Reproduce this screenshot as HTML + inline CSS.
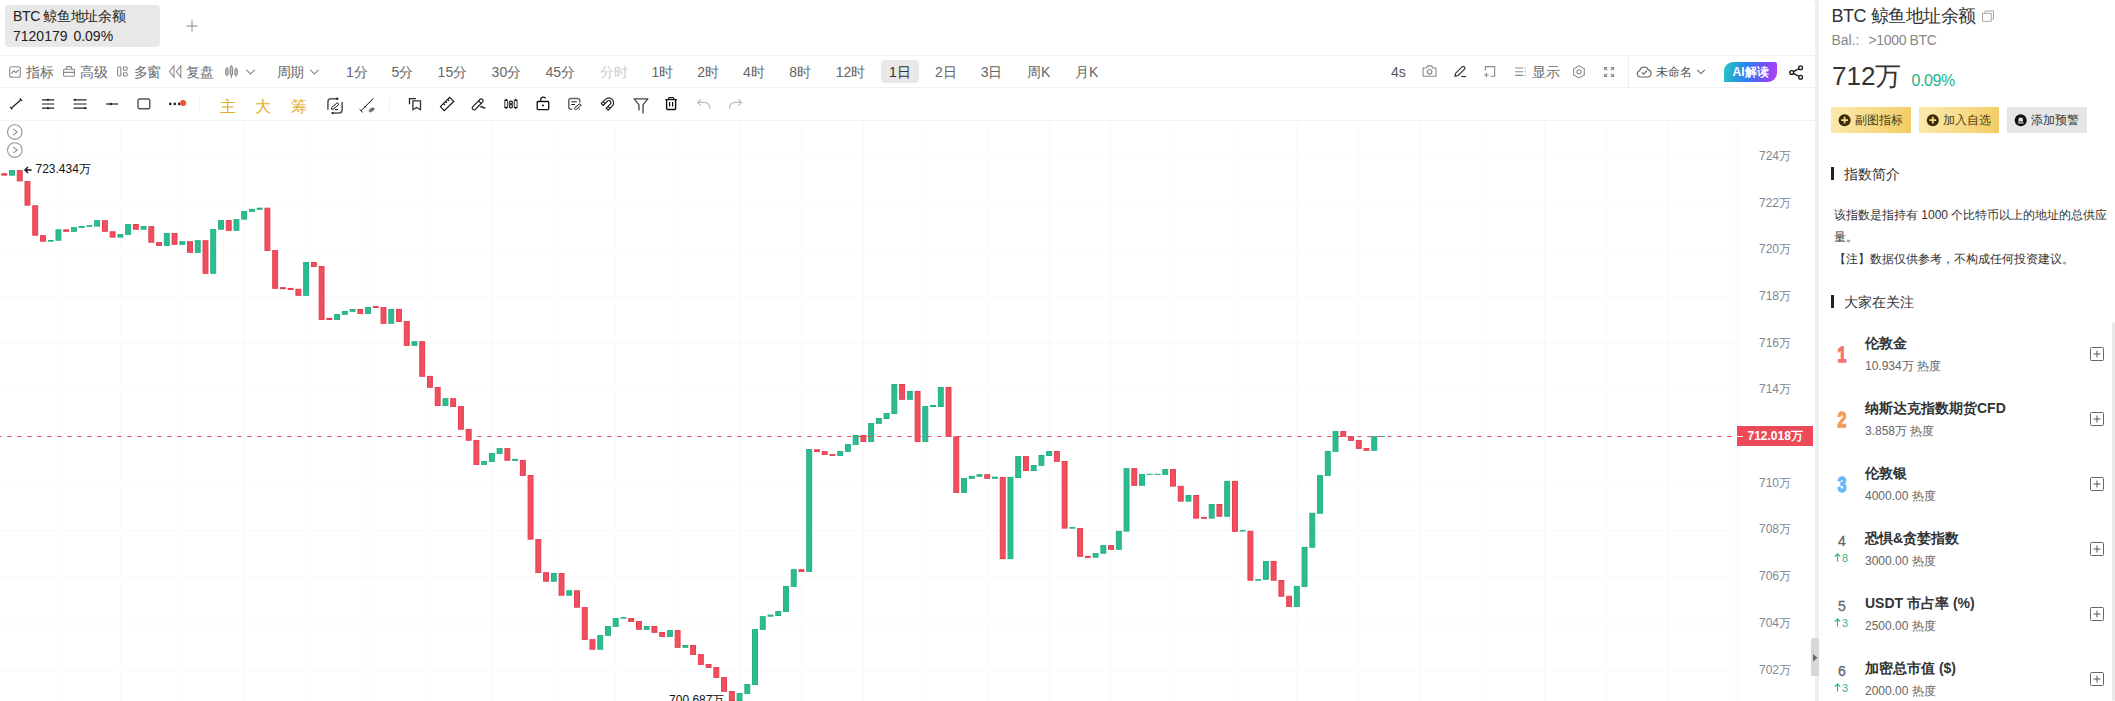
<!DOCTYPE html>
<html><head><meta charset="utf-8"><title>BTC</title>
<style>
html,body{margin:0;padding:0}
html{overflow:hidden;width:2115px;height:701px}
body{width:2115px;height:701px;overflow:hidden;background:#fff;position:relative;font-family:"Liberation Sans",sans-serif;color:#333}
.abs{position:absolute}
div{position:absolute;white-space:nowrap}
.hl{left:0;width:1815px;height:1px;background:#f1f1f1}
.t1{top:63px;height:18px;line-height:18px;font-size:14px;color:#6a6a6a;letter-spacing:-0.6px;margin-left:-0.4px}
.tf{top:63px;height:18px;line-height:18px;font-size:14px;color:#666}
.tf.dis{color:#ccc}
.tf.sel{color:#333}
.yl{left:1745px;width:60px;text-align:center;font-size:12px;line-height:16px;color:#7d8796}
.rk{left:1832px;width:20px;text-align:center;font-size:14px;line-height:18px;color:#666;-webkit-text-stroke:0.3px #666}
.rk.big{font-size:21.5px;font-weight:bold;line-height:24px;transform:scaleX(0.74);-webkit-text-stroke:1.3px currentColor}
.up{left:1834px;font-size:11px;line-height:12px;color:#2bb78d}
.up svg{margin-right:1px;vertical-align:0px}
.nm{left:1865px;font-size:14px;line-height:18px;font-weight:bold;color:#333}
.sb{left:1865px;font-size:12px;line-height:14px;color:#666}
.btn{top:107px;height:26px;width:80px;line-height:26px;font-size:12px;color:#4a3c14}
.btn span{position:absolute;left:24px;top:0}
.sec{left:1844.4px;font-size:14px;line-height:18px;color:#333}
.bar{left:1831px;width:3px;height:13px;background:#222}
</style></head><body>
<svg class="abs" style="left:0;top:0" width="2115" height="701" viewBox="0 0 2115 701" shape-rendering="auto">
<g stroke="#f7f9fb" stroke-width="1"><line x1="58.4" y1="121" x2="58.4" y2="701"/><line x1="120.3" y1="121" x2="120.3" y2="701"/><line x1="182.2" y1="121" x2="182.2" y2="701"/><line x1="244.2" y1="121" x2="244.2" y2="701"/><line x1="306.1" y1="121" x2="306.1" y2="701"/><line x1="368.0" y1="121" x2="368.0" y2="701"/><line x1="429.9" y1="121" x2="429.9" y2="701"/><line x1="491.8" y1="121" x2="491.8" y2="701"/><line x1="553.8" y1="121" x2="553.8" y2="701"/><line x1="615.7" y1="121" x2="615.7" y2="701"/><line x1="677.6" y1="121" x2="677.6" y2="701"/><line x1="739.5" y1="121" x2="739.5" y2="701"/><line x1="801.4" y1="121" x2="801.4" y2="701"/><line x1="863.4" y1="121" x2="863.4" y2="701"/><line x1="925.3" y1="121" x2="925.3" y2="701"/><line x1="987.2" y1="121" x2="987.2" y2="701"/><line x1="1049.1" y1="121" x2="1049.1" y2="701"/><line x1="1111.0" y1="121" x2="1111.0" y2="701"/><line x1="1173.0" y1="121" x2="1173.0" y2="701"/><line x1="1234.9" y1="121" x2="1234.9" y2="701"/><line x1="1296.8" y1="121" x2="1296.8" y2="701"/><line x1="1358.7" y1="121" x2="1358.7" y2="701"/><line x1="1420.6" y1="121" x2="1420.6" y2="701"/><line x1="1482.6" y1="121" x2="1482.6" y2="701"/><line x1="1544.5" y1="121" x2="1544.5" y2="701"/><line x1="1606.4" y1="121" x2="1606.4" y2="701"/><line x1="1668.3" y1="121" x2="1668.3" y2="701"/><line x1="1730.2" y1="121" x2="1730.2" y2="701"/><line x1="0" y1="156.8" x2="1743" y2="156.8"/><line x1="0" y1="203.5" x2="1743" y2="203.5"/><line x1="0" y1="250.2" x2="1743" y2="250.2"/><line x1="0" y1="296.9" x2="1743" y2="296.9"/><line x1="0" y1="343.6" x2="1743" y2="343.6"/><line x1="0" y1="390.3" x2="1743" y2="390.3"/><line x1="0" y1="437.0" x2="1743" y2="437.0"/><line x1="0" y1="483.7" x2="1743" y2="483.7"/><line x1="0" y1="530.4" x2="1743" y2="530.4"/><line x1="0" y1="577.1" x2="1743" y2="577.1"/><line x1="0" y1="623.8" x2="1743" y2="623.8"/><line x1="0" y1="670.5" x2="1743" y2="670.5"/><line x1="1737.5" y1="121" x2="1737.5" y2="701"/></g>
<rect x="1.30" y="173.2" width="5.9" height="2.4" fill="#e93c4e"/>
<rect x="9.54" y="170.6" width="4.9" height="4.5" fill="#2fbb92" stroke="#1fb285" stroke-width="1"/>
<rect x="17.28" y="170.6" width="4.9" height="10.3" fill="#ed505f" stroke="#e93c4e" stroke-width="1"/>
<rect x="25.02" y="181.6" width="4.9" height="23.5" fill="#ed505f" stroke="#e93c4e" stroke-width="1"/>
<rect x="32.76" y="205.8" width="4.9" height="29.4" fill="#ed505f" stroke="#e93c4e" stroke-width="1"/>
<rect x="40.50" y="235.7" width="4.9" height="5.5" fill="#ed505f" stroke="#e93c4e" stroke-width="1"/>
<rect x="47.74" y="240.0" width="5.9" height="1.7" fill="#1fb285"/>
<rect x="55.98" y="229.8" width="4.9" height="10.4" fill="#2fbb92" stroke="#1fb285" stroke-width="1"/>
<rect x="63.22" y="229.3" width="5.9" height="2.5" fill="#e93c4e"/>
<rect x="71.46" y="227.7" width="4.9" height="3.6" fill="#2fbb92" stroke="#1fb285" stroke-width="1"/>
<rect x="78.70" y="226.0" width="5.9" height="1.9" fill="#1fb285"/>
<rect x="86.44" y="225.2" width="5.9" height="1.7" fill="#1fb285"/>
<rect x="94.68" y="220.7" width="4.9" height="5.4" fill="#2fbb92" stroke="#1fb285" stroke-width="1"/>
<rect x="102.42" y="220.7" width="4.9" height="10.6" fill="#ed505f" stroke="#e93c4e" stroke-width="1"/>
<rect x="110.16" y="231.8" width="4.9" height="5.3" fill="#ed505f" stroke="#e93c4e" stroke-width="1"/>
<rect x="117.90" y="234.6" width="4.9" height="2.5" fill="#2fbb92" stroke="#1fb285" stroke-width="1"/>
<rect x="125.64" y="224.6" width="4.9" height="9.7" fill="#2fbb92" stroke="#1fb285" stroke-width="1"/>
<rect x="133.38" y="224.5" width="4.9" height="4.7" fill="#ed505f" stroke="#e93c4e" stroke-width="1"/>
<rect x="141.12" y="226.6" width="4.9" height="2.6" fill="#2fbb92" stroke="#1fb285" stroke-width="1"/>
<rect x="148.86" y="226.6" width="4.9" height="15.6" fill="#ed505f" stroke="#e93c4e" stroke-width="1"/>
<rect x="156.60" y="242.6" width="4.9" height="2.8" fill="#ed505f" stroke="#e93c4e" stroke-width="1"/>
<rect x="164.34" y="233.5" width="4.9" height="11.9" fill="#2fbb92" stroke="#1fb285" stroke-width="1"/>
<rect x="172.08" y="233.5" width="4.9" height="10.8" fill="#ed505f" stroke="#e93c4e" stroke-width="1"/>
<rect x="179.82" y="241.7" width="4.9" height="2.6" fill="#2fbb92" stroke="#1fb285" stroke-width="1"/>
<rect x="187.56" y="241.7" width="4.9" height="10.6" fill="#ed505f" stroke="#e93c4e" stroke-width="1"/>
<rect x="195.30" y="240.7" width="4.9" height="11.6" fill="#2fbb92" stroke="#1fb285" stroke-width="1"/>
<rect x="203.04" y="240.7" width="4.9" height="32.6" fill="#ed505f" stroke="#e93c4e" stroke-width="1"/>
<rect x="210.78" y="229.6" width="4.9" height="43.7" fill="#2fbb92" stroke="#1fb285" stroke-width="1"/>
<rect x="218.52" y="220.6" width="4.9" height="8.6" fill="#2fbb92" stroke="#1fb285" stroke-width="1"/>
<rect x="226.26" y="220.6" width="4.9" height="9.7" fill="#ed505f" stroke="#e93c4e" stroke-width="1"/>
<rect x="234.00" y="219.7" width="4.9" height="10.6" fill="#2fbb92" stroke="#1fb285" stroke-width="1"/>
<rect x="241.74" y="211.6" width="4.9" height="7.5" fill="#2fbb92" stroke="#1fb285" stroke-width="1"/>
<rect x="249.48" y="209.4" width="4.9" height="1.9" fill="#2fbb92" stroke="#1fb285" stroke-width="1"/>
<rect x="256.72" y="207.7" width="5.9" height="2.1" fill="#1fb285"/>
<rect x="264.96" y="208.2" width="4.9" height="42.2" fill="#ed505f" stroke="#e93c4e" stroke-width="1"/>
<rect x="272.70" y="250.6" width="4.9" height="37.7" fill="#ed505f" stroke="#e93c4e" stroke-width="1"/>
<rect x="279.94" y="287.1" width="5.9" height="2.1" fill="#e93c4e"/>
<rect x="287.68" y="287.9" width="5.9" height="2.1" fill="#e93c4e"/>
<rect x="295.92" y="289.3" width="4.9" height="6.0" fill="#ed505f" stroke="#e93c4e" stroke-width="1"/>
<rect x="303.66" y="262.5" width="4.9" height="32.8" fill="#2fbb92" stroke="#1fb285" stroke-width="1"/>
<rect x="311.40" y="262.5" width="4.9" height="3.9" fill="#ed505f" stroke="#e93c4e" stroke-width="1"/>
<rect x="319.14" y="266.6" width="4.9" height="52.8" fill="#ed505f" stroke="#e93c4e" stroke-width="1"/>
<rect x="326.38" y="317.9" width="5.9" height="2.1" fill="#e93c4e"/>
<rect x="334.62" y="314.6" width="4.9" height="4.8" fill="#2fbb92" stroke="#1fb285" stroke-width="1"/>
<rect x="342.36" y="311.5" width="4.9" height="2.8" fill="#2fbb92" stroke="#1fb285" stroke-width="1"/>
<rect x="350.10" y="309.5" width="4.9" height="1.8" fill="#2fbb92" stroke="#1fb285" stroke-width="1"/>
<rect x="357.84" y="309.5" width="4.9" height="3.9" fill="#ed505f" stroke="#e93c4e" stroke-width="1"/>
<rect x="365.58" y="307.5" width="4.9" height="5.9" fill="#2fbb92" stroke="#1fb285" stroke-width="1"/>
<rect x="372.82" y="306.1" width="5.9" height="1.9" fill="#e93c4e"/>
<rect x="381.06" y="307.6" width="4.9" height="15.7" fill="#ed505f" stroke="#e93c4e" stroke-width="1"/>
<rect x="388.80" y="309.4" width="4.9" height="13.9" fill="#2fbb92" stroke="#1fb285" stroke-width="1"/>
<rect x="396.54" y="309.4" width="4.9" height="12.0" fill="#ed505f" stroke="#e93c4e" stroke-width="1"/>
<rect x="404.28" y="321.5" width="4.9" height="23.8" fill="#ed505f" stroke="#e93c4e" stroke-width="1"/>
<rect x="412.02" y="341.7" width="4.9" height="3.6" fill="#2fbb92" stroke="#1fb285" stroke-width="1"/>
<rect x="419.76" y="341.7" width="4.9" height="34.6" fill="#ed505f" stroke="#e93c4e" stroke-width="1"/>
<rect x="427.50" y="376.4" width="4.9" height="10.9" fill="#ed505f" stroke="#e93c4e" stroke-width="1"/>
<rect x="435.24" y="387.5" width="4.9" height="18.0" fill="#ed505f" stroke="#e93c4e" stroke-width="1"/>
<rect x="442.98" y="398.7" width="4.9" height="6.8" fill="#2fbb92" stroke="#1fb285" stroke-width="1"/>
<rect x="450.72" y="398.7" width="4.9" height="7.7" fill="#ed505f" stroke="#e93c4e" stroke-width="1"/>
<rect x="458.46" y="406.5" width="4.9" height="22.7" fill="#ed505f" stroke="#e93c4e" stroke-width="1"/>
<rect x="466.20" y="429.4" width="4.9" height="10.8" fill="#ed505f" stroke="#e93c4e" stroke-width="1"/>
<rect x="473.94" y="440.4" width="4.9" height="24.0" fill="#ed505f" stroke="#e93c4e" stroke-width="1"/>
<rect x="481.68" y="461.6" width="4.9" height="2.8" fill="#2fbb92" stroke="#1fb285" stroke-width="1"/>
<rect x="489.42" y="453.6" width="4.9" height="7.8" fill="#2fbb92" stroke="#1fb285" stroke-width="1"/>
<rect x="497.16" y="448.6" width="4.9" height="4.8" fill="#2fbb92" stroke="#1fb285" stroke-width="1"/>
<rect x="504.90" y="448.6" width="4.9" height="11.6" fill="#ed505f" stroke="#e93c4e" stroke-width="1"/>
<rect x="512.14" y="458.9" width="5.9" height="2.0" fill="#1fb285"/>
<rect x="520.38" y="460.4" width="4.9" height="15.0" fill="#ed505f" stroke="#e93c4e" stroke-width="1"/>
<rect x="528.12" y="475.5" width="4.9" height="63.6" fill="#ed505f" stroke="#e93c4e" stroke-width="1"/>
<rect x="535.86" y="539.6" width="4.9" height="32.9" fill="#ed505f" stroke="#e93c4e" stroke-width="1"/>
<rect x="543.60" y="572.7" width="4.9" height="8.5" fill="#ed505f" stroke="#e93c4e" stroke-width="1"/>
<rect x="551.34" y="573.5" width="4.9" height="7.7" fill="#2fbb92" stroke="#1fb285" stroke-width="1"/>
<rect x="559.08" y="573.5" width="4.9" height="21.7" fill="#ed505f" stroke="#e93c4e" stroke-width="1"/>
<rect x="566.82" y="590.8" width="4.9" height="4.4" fill="#2fbb92" stroke="#1fb285" stroke-width="1"/>
<rect x="574.56" y="590.8" width="4.9" height="16.4" fill="#ed505f" stroke="#e93c4e" stroke-width="1"/>
<rect x="582.30" y="607.6" width="4.9" height="31.8" fill="#ed505f" stroke="#e93c4e" stroke-width="1"/>
<rect x="590.04" y="639.7" width="4.9" height="9.5" fill="#ed505f" stroke="#e93c4e" stroke-width="1"/>
<rect x="597.78" y="635.6" width="4.9" height="13.6" fill="#2fbb92" stroke="#1fb285" stroke-width="1"/>
<rect x="605.52" y="626.5" width="4.9" height="8.8" fill="#2fbb92" stroke="#1fb285" stroke-width="1"/>
<rect x="613.26" y="618.6" width="4.9" height="7.7" fill="#2fbb92" stroke="#1fb285" stroke-width="1"/>
<rect x="620.50" y="617.1" width="5.9" height="1.6" fill="#1fb285"/>
<rect x="628.74" y="618.5" width="4.9" height="2.9" fill="#ed505f" stroke="#e93c4e" stroke-width="1"/>
<rect x="636.48" y="621.5" width="4.9" height="7.8" fill="#ed505f" stroke="#e93c4e" stroke-width="1"/>
<rect x="644.22" y="626.5" width="4.9" height="2.8" fill="#2fbb92" stroke="#1fb285" stroke-width="1"/>
<rect x="651.96" y="626.5" width="4.9" height="5.8" fill="#ed505f" stroke="#e93c4e" stroke-width="1"/>
<rect x="659.70" y="632.5" width="4.9" height="3.9" fill="#ed505f" stroke="#e93c4e" stroke-width="1"/>
<rect x="667.44" y="630.6" width="4.9" height="5.8" fill="#2fbb92" stroke="#1fb285" stroke-width="1"/>
<rect x="675.18" y="630.6" width="4.9" height="16.7" fill="#ed505f" stroke="#e93c4e" stroke-width="1"/>
<rect x="682.92" y="645.5" width="4.9" height="1.8" fill="#2fbb92" stroke="#1fb285" stroke-width="1"/>
<rect x="690.66" y="645.5" width="4.9" height="8.9" fill="#ed505f" stroke="#e93c4e" stroke-width="1"/>
<rect x="698.40" y="654.6" width="4.9" height="9.8" fill="#ed505f" stroke="#e93c4e" stroke-width="1"/>
<rect x="706.14" y="664.5" width="4.9" height="2.9" fill="#ed505f" stroke="#e93c4e" stroke-width="1"/>
<rect x="713.88" y="667.6" width="4.9" height="9.8" fill="#ed505f" stroke="#e93c4e" stroke-width="1"/>
<rect x="721.62" y="677.6" width="4.9" height="13.7" fill="#ed505f" stroke="#e93c4e" stroke-width="1"/>
<rect x="729.36" y="691.5" width="4.9" height="9.0" fill="#ed505f" stroke="#e93c4e" stroke-width="1"/>
<rect x="737.10" y="693.6" width="4.9" height="6.9" fill="#2fbb92" stroke="#1fb285" stroke-width="1"/>
<rect x="744.84" y="684.6" width="4.9" height="8.8" fill="#2fbb92" stroke="#1fb285" stroke-width="1"/>
<rect x="752.58" y="629.6" width="4.9" height="54.9" fill="#2fbb92" stroke="#1fb285" stroke-width="1"/>
<rect x="760.32" y="616.7" width="4.9" height="12.6" fill="#2fbb92" stroke="#1fb285" stroke-width="1"/>
<rect x="767.56" y="614.6" width="5.9" height="2.1" fill="#1fb285"/>
<rect x="775.80" y="611.5" width="4.9" height="4.0" fill="#2fbb92" stroke="#1fb285" stroke-width="1"/>
<rect x="783.54" y="586.5" width="4.9" height="25.0" fill="#2fbb92" stroke="#1fb285" stroke-width="1"/>
<rect x="791.28" y="569.7" width="4.9" height="16.7" fill="#2fbb92" stroke="#1fb285" stroke-width="1"/>
<rect x="799.02" y="569.7" width="4.9" height="1.7" fill="#ed505f" stroke="#e93c4e" stroke-width="1"/>
<rect x="806.76" y="449.5" width="4.9" height="121.9" fill="#2fbb92" stroke="#1fb285" stroke-width="1"/>
<rect x="814.00" y="449.3" width="5.9" height="2.6" fill="#e93c4e"/>
<rect x="822.24" y="451.6" width="4.9" height="2.8" fill="#ed505f" stroke="#e93c4e" stroke-width="1"/>
<rect x="829.48" y="454.1" width="5.9" height="1.8" fill="#e93c4e"/>
<rect x="837.72" y="451.6" width="4.9" height="3.8" fill="#2fbb92" stroke="#1fb285" stroke-width="1"/>
<rect x="845.46" y="444.6" width="4.9" height="6.7" fill="#2fbb92" stroke="#1fb285" stroke-width="1"/>
<rect x="853.20" y="435.5" width="4.9" height="8.9" fill="#2fbb92" stroke="#1fb285" stroke-width="1"/>
<rect x="860.94" y="435.5" width="4.9" height="5.9" fill="#ed505f" stroke="#e93c4e" stroke-width="1"/>
<rect x="868.68" y="423.6" width="4.9" height="17.8" fill="#2fbb92" stroke="#1fb285" stroke-width="1"/>
<rect x="876.42" y="418.5" width="4.9" height="4.8" fill="#2fbb92" stroke="#1fb285" stroke-width="1"/>
<rect x="884.16" y="413.5" width="4.9" height="5.0" fill="#2fbb92" stroke="#1fb285" stroke-width="1"/>
<rect x="891.90" y="384.5" width="4.9" height="29.0" fill="#2fbb92" stroke="#1fb285" stroke-width="1"/>
<rect x="899.64" y="384.5" width="4.9" height="14.8" fill="#ed505f" stroke="#e93c4e" stroke-width="1"/>
<rect x="907.38" y="391.5" width="4.9" height="7.8" fill="#2fbb92" stroke="#1fb285" stroke-width="1"/>
<rect x="915.12" y="391.5" width="4.9" height="49.9" fill="#ed505f" stroke="#e93c4e" stroke-width="1"/>
<rect x="922.86" y="406.6" width="4.9" height="34.8" fill="#2fbb92" stroke="#1fb285" stroke-width="1"/>
<rect x="930.10" y="405.0" width="5.9" height="2.0" fill="#1fb285"/>
<rect x="938.34" y="387.5" width="4.9" height="19.0" fill="#2fbb92" stroke="#1fb285" stroke-width="1"/>
<rect x="946.08" y="387.4" width="4.9" height="48.9" fill="#ed505f" stroke="#e93c4e" stroke-width="1"/>
<rect x="953.82" y="436.8" width="4.9" height="55.6" fill="#ed505f" stroke="#e93c4e" stroke-width="1"/>
<rect x="961.56" y="478.5" width="4.9" height="13.9" fill="#2fbb92" stroke="#1fb285" stroke-width="1"/>
<rect x="969.30" y="476.3" width="4.9" height="2.0" fill="#2fbb92" stroke="#1fb285" stroke-width="1"/>
<rect x="976.54" y="474.2" width="5.9" height="2.5" fill="#1fb285"/>
<rect x="984.78" y="474.7" width="4.9" height="3.6" fill="#ed505f" stroke="#e93c4e" stroke-width="1"/>
<rect x="992.02" y="476.7" width="5.9" height="2.1" fill="#1fb285"/>
<rect x="1000.26" y="477.4" width="4.9" height="81.2" fill="#ed505f" stroke="#e93c4e" stroke-width="1"/>
<rect x="1008.00" y="477.4" width="4.9" height="81.2" fill="#2fbb92" stroke="#1fb285" stroke-width="1"/>
<rect x="1015.74" y="456.6" width="4.9" height="20.9" fill="#2fbb92" stroke="#1fb285" stroke-width="1"/>
<rect x="1023.48" y="456.6" width="4.9" height="13.9" fill="#ed505f" stroke="#e93c4e" stroke-width="1"/>
<rect x="1031.22" y="465.5" width="4.9" height="5.0" fill="#2fbb92" stroke="#1fb285" stroke-width="1"/>
<rect x="1038.96" y="455.5" width="4.9" height="9.8" fill="#2fbb92" stroke="#1fb285" stroke-width="1"/>
<rect x="1046.70" y="451.5" width="4.9" height="4.0" fill="#2fbb92" stroke="#1fb285" stroke-width="1"/>
<rect x="1054.44" y="451.5" width="4.9" height="9.8" fill="#ed505f" stroke="#e93c4e" stroke-width="1"/>
<rect x="1062.18" y="461.5" width="4.9" height="66.6" fill="#ed505f" stroke="#e93c4e" stroke-width="1"/>
<rect x="1069.42" y="527.0" width="5.9" height="1.7" fill="#1fb285"/>
<rect x="1077.66" y="528.6" width="4.9" height="27.7" fill="#ed505f" stroke="#e93c4e" stroke-width="1"/>
<rect x="1084.90" y="555.9" width="5.9" height="2.0" fill="#e93c4e"/>
<rect x="1093.14" y="553.6" width="4.9" height="3.6" fill="#2fbb92" stroke="#1fb285" stroke-width="1"/>
<rect x="1100.88" y="545.6" width="4.9" height="7.6" fill="#2fbb92" stroke="#1fb285" stroke-width="1"/>
<rect x="1108.62" y="545.6" width="4.9" height="3.7" fill="#ed505f" stroke="#e93c4e" stroke-width="1"/>
<rect x="1116.36" y="531.4" width="4.9" height="17.9" fill="#2fbb92" stroke="#1fb285" stroke-width="1"/>
<rect x="1124.10" y="468.7" width="4.9" height="62.4" fill="#2fbb92" stroke="#1fb285" stroke-width="1"/>
<rect x="1131.84" y="468.7" width="4.9" height="16.6" fill="#ed505f" stroke="#e93c4e" stroke-width="1"/>
<rect x="1139.58" y="474.6" width="4.9" height="10.7" fill="#2fbb92" stroke="#1fb285" stroke-width="1"/>
<rect x="1146.82" y="473.8" width="5.9" height="1.1" fill="#1fb285"/>
<rect x="1154.56" y="473.8" width="5.9" height="1.1" fill="#1fb285"/>
<rect x="1162.80" y="469.6" width="4.9" height="4.8" fill="#2fbb92" stroke="#1fb285" stroke-width="1"/>
<rect x="1170.54" y="469.6" width="4.9" height="16.5" fill="#ed505f" stroke="#e93c4e" stroke-width="1"/>
<rect x="1178.28" y="486.3" width="4.9" height="14.8" fill="#ed505f" stroke="#e93c4e" stroke-width="1"/>
<rect x="1186.02" y="495.5" width="4.9" height="5.6" fill="#2fbb92" stroke="#1fb285" stroke-width="1"/>
<rect x="1193.76" y="495.5" width="4.9" height="22.6" fill="#ed505f" stroke="#e93c4e" stroke-width="1"/>
<rect x="1201.00" y="516.9" width="5.9" height="1.9" fill="#e93c4e"/>
<rect x="1209.24" y="504.5" width="4.9" height="13.6" fill="#2fbb92" stroke="#1fb285" stroke-width="1"/>
<rect x="1216.98" y="504.5" width="4.9" height="11.7" fill="#ed505f" stroke="#e93c4e" stroke-width="1"/>
<rect x="1224.72" y="481.4" width="4.9" height="34.8" fill="#2fbb92" stroke="#1fb285" stroke-width="1"/>
<rect x="1232.46" y="481.4" width="4.9" height="49.9" fill="#ed505f" stroke="#e93c4e" stroke-width="1"/>
<rect x="1239.70" y="529.9" width="5.9" height="1.6" fill="#1fb285"/>
<rect x="1247.94" y="531.3" width="4.9" height="48.9" fill="#ed505f" stroke="#e93c4e" stroke-width="1"/>
<rect x="1255.18" y="579.1" width="5.9" height="1.6" fill="#1fb285"/>
<rect x="1263.42" y="561.5" width="4.9" height="17.8" fill="#2fbb92" stroke="#1fb285" stroke-width="1"/>
<rect x="1271.16" y="561.5" width="4.9" height="18.7" fill="#ed505f" stroke="#e93c4e" stroke-width="1"/>
<rect x="1278.90" y="580.5" width="4.9" height="15.7" fill="#ed505f" stroke="#e93c4e" stroke-width="1"/>
<rect x="1286.64" y="596.3" width="4.9" height="10.1" fill="#ed505f" stroke="#e93c4e" stroke-width="1"/>
<rect x="1294.38" y="586.4" width="4.9" height="20.0" fill="#2fbb92" stroke="#1fb285" stroke-width="1"/>
<rect x="1302.12" y="547.4" width="4.9" height="39.0" fill="#2fbb92" stroke="#1fb285" stroke-width="1"/>
<rect x="1309.86" y="513.3" width="4.9" height="33.9" fill="#2fbb92" stroke="#1fb285" stroke-width="1"/>
<rect x="1317.60" y="475.6" width="4.9" height="37.6" fill="#2fbb92" stroke="#1fb285" stroke-width="1"/>
<rect x="1325.34" y="451.5" width="4.9" height="23.9" fill="#2fbb92" stroke="#1fb285" stroke-width="1"/>
<rect x="1333.08" y="431.6" width="4.9" height="19.7" fill="#2fbb92" stroke="#1fb285" stroke-width="1"/>
<rect x="1340.82" y="431.6" width="4.9" height="4.7" fill="#ed505f" stroke="#e93c4e" stroke-width="1"/>
<rect x="1348.56" y="436.7" width="4.9" height="3.7" fill="#ed505f" stroke="#e93c4e" stroke-width="1"/>
<rect x="1356.30" y="440.6" width="4.9" height="7.8" fill="#ed505f" stroke="#e93c4e" stroke-width="1"/>
<rect x="1364.04" y="448.6" width="4.9" height="1.7" fill="#ed505f" stroke="#e93c4e" stroke-width="1"/>
<rect x="1371.78" y="436.6" width="4.9" height="13.7" fill="#2fbb92" stroke="#1fb285" stroke-width="1"/>
<rect x="1379.02" y="436.0" width="5.9" height="1.0" fill="#1fb285"/>
<line x1="0" y1="436.5" x2="1737" y2="436.5" stroke="#ec4a59" stroke-width="1" stroke-dasharray="4 6" stroke-dashoffset="2.6"/>
</svg>
<!-- top tab -->
<div style="left:5px;top:5px;width:155px;height:42px;background:#e8e8e8;border-radius:4px"></div>
<div style="left:13px;top:7px;font-size:14px;line-height:18px;color:#222;letter-spacing:-0.35px">BTC 鲸鱼地址余额</div>
<div style="left:13px;top:27px;font-size:14px;line-height:18px;color:#222;word-spacing:2px">7120179 0.09%</div>
<svg class="abs" style="left:186px;top:20px" width="12" height="12" viewBox="0 0 12 12"><path d="M6 0.5V11.5M0.5 6H11.5" stroke="#888" stroke-width="1"/></svg>
<div class="hl" style="top:55px"></div><div class="hl" style="top:87px"></div><div class="hl" style="top:120px"></div>
<!-- toolbar 1 -->
<div class="t1" style="left:26.7px">指标</div>
<div class="t1" style="left:80.8px">高级</div>
<div class="t1" style="left:134px">多窗</div>
<div class="t1" style="left:186.7px">复盘</div>
<div class="t1" style="left:277px">周期</div>
<div style="left:881px;top:60px;width:38px;height:23px;background:#e8e8e8;border-radius:4px"></div>
<div class="tf" style="left:346px">1分</div><div class="tf" style="left:391.6px">5分</div><div class="tf" style="left:437.6px">15分</div><div class="tf" style="left:491.6px">30分</div><div class="tf" style="left:545.5px">45分</div><div class="tf dis" style="left:599.8px">分时</div><div class="tf" style="left:651.6px">1时</div><div class="tf" style="left:697.3px">2时</div><div class="tf" style="left:743px">4时</div><div class="tf" style="left:789.3px">8时</div><div class="tf" style="left:835.7px">12时</div><div class="tf sel" style="left:889px">1日</div><div class="tf" style="left:935px">2日</div><div class="tf" style="left:980.7px">3日</div><div class="tf" style="left:1027px">周K</div><div class="tf" style="left:1075px">月K</div>
<div class="t1" style="left:1391.4px;color:#555;letter-spacing:0">4s</div>
<div class="t1" style="left:1532.6px">显示</div>
<div style="left:1628px;top:56px;width:1px;height:31px;background:#eee"></div>
<div style="left:1656.4px;top:64px;font-size:12px;line-height:16px;color:#555">未命名</div>
<div style="left:1724px;top:62px;width:53px;height:20px;border-radius:9px 2px 9px 0;background:linear-gradient(100deg,#22c8c0 0%,#2f7df5 45%,#7a4ef5 75%,#b83df5 100%)"></div>
<div style="left:1732.5px;top:64px;font-size:12px;line-height:16px;color:#fff;font-weight:bold">AI解读</div>
<!-- toolbar 2 text icons -->
<div style="left:219.6px;top:96.9px;font-size:16px;line-height:20px;color:#dfb028">主</div>
<div style="left:255.3px;top:96.9px;font-size:16px;line-height:20px;color:#dfb028">大</div>
<div style="left:291.3px;top:96.9px;font-size:16px;line-height:20px;color:#dfb028">筹</div>
<div style="left:199px;top:98px;width:1px;height:13px;background:#f4f2f1"></div>
<div style="left:389px;top:98px;width:1px;height:13px;background:#f4f2f1"></div>
<!-- ICONS -->
<svg class="abs" style="left:0;top:0" width="1815" height="121" viewBox="0 0 1815 121" fill="none" stroke-linecap="butt" stroke-linejoin="miter">
<!-- toolbar1 left icons (gray) -->
<g stroke="#8a8a8a" stroke-width="1.1">
<rect x="9.7" y="66.8" width="10.6" height="10.4" rx="2"/>
<path d="M11.3 73.7L13.8 70.9L15.8 72.7L18.8 70"/>
<rect x="63.6" y="69.3" width="10.8" height="7" rx="0.8"/>
<path d="M66 69.3L67 66.6H71L72 69.3M63.6 72.4H74.4"/>
<rect x="117.7" y="67" width="3.1" height="9" rx="0.8"/>
<rect x="123.5" y="67" width="3.6" height="3.2" rx="0.8"/>
<rect x="123.5" y="72.8" width="3.6" height="3.2" rx="0.8"/>
<path d="M174 65.9L169.5 71.5L174 77.1Z"/>
<path d="M180.8 65.9L176.3 71.5L180.8 77.1Z"/>
<path d="M246.3 69.9L250.5 73.9L254.7 69.9"/>
<path d="M310.2 69.9L314.4 73.9L318.6 69.9"/>
</g>
<g stroke="#777" stroke-width="0.9" fill="#c8c8c8">
<path d="M226.9 67.2V76.2M231.4 65.2V78M236.1 67.7V76.6"/>
<rect x="225.7" y="68.6" width="2.4" height="6.2" rx="0.8"/>
<rect x="230.2" y="66.6" width="2.4" height="8.6" rx="0.8"/>
<rect x="234.9" y="69" width="2.4" height="6.2" rx="0.8"/>
</g>
<!-- toolbar1 right icons -->
<g stroke="#8a8a8a" stroke-width="1.1">
<path d="M1423.1 68H1426.4L1427.5 65.9H1431.7L1432.8 68H1436V76.3H1423.1Z"/>
<circle cx="1429.6" cy="71.8" r="2.3"/>
<path d="M1485.3 70.6V66.6H1494.7V76.3H1490.6M1484.2 75H1488.6M1486.4 72.8V77.2"/>
<path d="M1515.2 68H1523M1515.2 71.7H1523M1515.2 75.4H1523M1524.6 68h1.1M1524.6 71.7h1.1M1524.6 75.4h1.1"/>
<path d="M1579 65.8L1584.3 68.8V74.9L1579 77.9L1573.7 74.9V68.8Z"/>
<circle cx="1579" cy="71.85" r="2.1"/>
<path d="M1604.5 70.3V67.6H1607.2M1604.7 67.8L1607.3 70.4M1610.8 67.6H1613.5V70.3M1613.3 67.8L1610.7 70.4M1604.5 73.7V76.4H1607.2M1604.7 76.2L1607.3 73.6M1613.5 73.7V76.4H1610.8M1613.3 76.2L1610.7 73.6"/>
</g>
<g stroke="#333" stroke-width="1.2">
<path d="M1455 76.2L1455.7 73.2L1462 66.9A1.65 1.65 0 0 1 1464.4 69.3L1458.1 75.5Z"/>
<path d="M1461.3 76.5H1466"/>
</g>
<g stroke="#666" stroke-width="1.1">
<path d="M1640.6 77H1647.6A3.6 3.6 0 0 0 1648.3 69.9A4.5 4.5 0 0 0 1639.7 70.7A3.2 3.2 0 0 0 1640.6 77Z"/>
<path d="M1641.8 72.4L1643.7 74.2L1647 70.6"/>
<path d="M1697.2 69.9L1701 73.6L1704.8 69.9"/>
</g>
<g stroke="#111" stroke-width="1.3">
<circle cx="1800.6" cy="67.8" r="1.9"/><circle cx="1791.7" cy="72.5" r="1.9"/><circle cx="1800.6" cy="77.2" r="1.9"/>
<path d="M1793.4 71.6L1798.9 68.7M1793.4 73.4L1798.9 76.3"/>
</g>
<!-- toolbar2 -->
<g stroke="#222" stroke-width="1.2">
<path d="M11.3 108.2L20.9 99.7M10.2 107L12.4 109.4M19.8 98.5L22 100.9"/>
<path d="M42 99.8H54.2M42 104H54.2M42 108.2H54.2"/>
<path d="M73.6 99.8H86.6M73.6 104H86.6M73.6 108.2H86.6"/>
<path d="M106 104H118"/>
</g>
<g fill="#222" stroke="none">
<circle cx="48" cy="99.8" r="1.1"/><circle cx="48" cy="108.2" r="1.1"/>
<circle cx="75" cy="99.8" r="1.1"/><circle cx="85.2" cy="108.2" r="1.1"/>
<circle cx="110.7" cy="104" r="1.3"/>
<circle cx="170.3" cy="103.9" r="1.3"/><circle cx="174.8" cy="103.9" r="1.3"/><circle cx="179.2" cy="103.9" r="1.3"/>
</g>
<circle cx="183.1" cy="103.1" r="3" fill="#f0512c"/>
<rect x="138" y="99" width="11.8" height="9.8" rx="1.5" stroke="#555" stroke-width="1.4"/>
<!-- edit-rotate -->
<g stroke="#555" stroke-width="1.5">
<path d="M327.9 109.7V102A3.2 3.2 0 0 1 331.1 98.8H336.5"/>
<path d="M342.1 102.1V110A3.1 3.1 0 0 1 339 113.1H333.2"/>
</g>
<circle cx="337.2" cy="98.8" r="1.2" fill="#222"/><circle cx="332.6" cy="113.1" r="1.2" fill="#222"/>
<g stroke="#111" stroke-width="1">
<path d="M331.4 109.1L331.6 107.6L336.6 103.3A1.15 1.15 0 0 1 338.2 105L333 109.3Z"/>
<path d="M335 109.6H338"/>
</g>
<!-- line cursor -->
<g stroke="#111" stroke-width="1">
<path d="M361.1 110.7L373.3 98.5M359.6 109.4L362.6 112.3M364.3 105.8L366 107.5"/>
</g>
<path d="M370.2 108h2.4v-1.3l2.4 2.2l-2.4 2.2v-1.3h-2.4zM373.2 111.6h-2.4v1.3l-2.4-2.2l2.4-2.2v1.3h2.4z" fill="#6a6a6a"/>
<!-- bookmark -->
<g stroke="#222" stroke-width="1.3">
<path d="M409.5 104.2V98.6H415.9"/>
<path d="M412.9 109.7V100.9H420.5V109.7L416.7 107.4Z" stroke="#333"/>
</g>
<!-- ruler -->
<g stroke="#111" stroke-width="1.2">
<path d="M440.4 106.6L449.7 97.3L453.7 101.4L444.3 110.7Z"/>
<path d="M443.5 103.6L444.9 105M445.6 101.5L447 102.9M447.7 99.4L449.1 100.8"/>
</g>
<!-- pen marker -->
<g stroke="#222" stroke-width="1.2">
<path d="M472.6 106.9L480.1 99.3A1.85 1.85 0 0 1 482.7 101.9L475.2 109.5A1.85 1.85 0 0 1 472.6 106.9Z"/>
<path d="M478.5 100.9L481.1 103.5"/>
<path d="M480.5 107.8C481.2 106 482.3 106.2 482.8 107.3C483.3 108.4 484.4 108.6 485.1 106.9" stroke-width="1.3"/>
</g>
<!-- candle compare -->
<g stroke="#222" stroke-width="1">
<rect x="504.8" y="100.4" width="2.7" height="7" fill="#fff" stroke="#555" stroke-width="1.2"/>
<rect x="514.4" y="100.4" width="2.7" height="7" fill="#fff" stroke="#555" stroke-width="1.2"/>
<rect x="509.6" y="101.2" width="2.7" height="2.8" rx="1" stroke-width="1.3"/>
<rect x="509.6" y="104.4" width="2.7" height="3.4" rx="1" stroke-width="1.3"/>
<path d="M507.5 104H509.6M512.3 104H514.4" stroke="#777"/>
</g>
<path d="M506.15 98.5L507.9 100.7H504.4ZM506.15 109.3L507.9 107.1H504.4ZM515.75 98.5L517.5 100.7H514ZM515.75 109.3L517.5 107.1H514Z" fill="#111"/>
<!-- unlock -->
<g stroke="#111" stroke-width="1.3">
<rect x="537.2" y="101.5" width="11.5" height="8.1" rx="0.8"/>
<path d="M540.6 101.5V99.6A2.7 2.7 0 0 1 545.6 98.4"/>
<path d="M542 105.5H544"/>
</g>
<!-- note edit -->
<g stroke="#666" stroke-width="1.5">
<path d="M572.2 109.3H571A2.2 2.2 0 0 1 568.8 107.1V100.8A2.2 2.2 0 0 1 571 98.6H577.6A2.2 2.2 0 0 1 579.8 100.8V102.6"/>
<path d="M571.3 101.7H576.8"/>
<path d="M578.6 109.3H580.2" stroke-width="1.2"/>
</g>
<g stroke="#111" stroke-width="1">
<path d="M571.3 104.5H574.8"/>
<path d="M574.9 107.6L579 104.3A1.1 1.1 0 0 1 580.5 106L576.3 109.3A1.1 1.1 0 0 1 574.9 107.6Z"/>
</g>
<!-- magnet -->
<g transform="translate(608.8,102.7) rotate(45)" stroke="#222" stroke-width="1.2">
<path d="M-4.8 0A4.8 4.8 0 0 1 4.8 0V5.8H2.1V0A2.1 2.1 0 0 0 -2.1 0V5.8H-4.8Z"/>
<path d="M-4.8 3.2H-2.1M2.1 3.2H4.8"/>
</g>
<!-- funnel -->
<path d="M633.6 98.9H648.4M634.4 99.2L639 104.9V110.6M647.6 99.2L643 104.9V113.4" stroke="#444" stroke-width="1.3"/>
<!-- trash -->
<g stroke="#111" stroke-width="1.4">
<path d="M665.3 99.6H676.9M668.5 99.4V98.6A1 1 0 0 1 669.5 97.6H672.7A1 1 0 0 1 673.7 98.6V99.4"/>
<path d="M666.6 99.8V108.3A1.2 1.2 0 0 0 667.8 109.5H674.4A1.2 1.2 0 0 0 675.6 108.3V99.8"/>
<path d="M669.6 102V106.6M672.6 102V106.6" stroke-width="1.2"/>
</g>
<!-- undo redo -->
<g stroke="#bdbdbd" stroke-width="1.2">
<path d="M700.9 99.5L697.7 102.4L700.9 105.6M697.9 102.4H703.5C707.5 102.4 709.8 105 709.8 108.8"/>
<path d="M738.4 99.5L741.6 102.4L738.4 105.6M741.4 102.4H735.8C731.8 102.4 729.5 105 729.5 108.8"/>
</g>
</svg>
<!-- chart corner circles -->
<svg class="abs" style="left:6px;top:123px" width="18" height="36" viewBox="6 123 18 36" fill="none" stroke="#8e97a8" stroke-width="1.15">
<circle cx="14.8" cy="132" r="7.3"/><path d="M13.2 128.9L17.2 132L13.2 135.1"/>
<circle cx="14.8" cy="150" r="7.3"/><path d="M13.2 146.9L17.2 150L13.2 153.1"/>
</svg>
<!-- right panel icons -->
<svg class="abs" style="left:1819px;top:0;z-index:5" width="296" height="140" viewBox="1819 0 296 140" fill="none">
<path d="M1985 13V11H1993.5V19H1991.5" stroke="#aaa" stroke-width="1"/>
<rect x="1982.5" y="13.3" width="8.7" height="8" stroke="#aaa" stroke-width="1"/>
<circle cx="1844.6" cy="120.2" r="6" fill="#3a2c06"/><path d="M1841.2 120.2H1848M1844.6 116.8V123.6" stroke="#f6dc8c" stroke-width="1.8"/>
<circle cx="1932.8" cy="120.2" r="6" fill="#3a2c06"/><path d="M1929.4 120.2H1936.2M1932.8 116.8V123.6" stroke="#f6dc8c" stroke-width="1.8"/>
<circle cx="2020.7" cy="120.2" r="6" fill="#111"/>
<path d="M2018.4 121.6V119.9A2.3 2.3 0 0 1 2023 119.9V121.6Z" fill="#e6e6e6"/><path d="M2017.8 122.9H2023.6" stroke="#e6e6e6" stroke-width="1.1"/>
</svg>

<!-- chart labels -->
<div style="left:35.5px;top:161px;font-size:12px;line-height:16px;color:#111">723.434万</div>
<svg class="abs" style="left:24px;top:166.4px" width="8" height="8" viewBox="0 0 8 8"><path d="M7.6 4H1M4 0.9L0.9 4L4 7.1" fill="none" stroke="#111" stroke-width="1.4"/></svg>
<div style="left:669.1px;top:691.8px;height:9.2px;overflow:hidden;font-size:12px;line-height:16px;color:#111">700.687万</div>
<svg class="abs" style="left:729.3px;top:699.5px" width="8" height="1.5" viewBox="0 0 8 1.5"><path d="M0.4 4H7M4 0.9L7.1 4L4 7.1" fill="none" stroke="#111" stroke-width="1.4"/></svg>
<div class="yl" style="top:147.8px">724万</div><div class="yl" style="top:194.5px">722万</div><div class="yl" style="top:241.2px">720万</div><div class="yl" style="top:287.9px">718万</div><div class="yl" style="top:334.6px">716万</div><div class="yl" style="top:381.3px">714万</div><div class="yl" style="top:474.7px">710万</div><div class="yl" style="top:521.4px">708万</div><div class="yl" style="top:568.1px">706万</div><div class="yl" style="top:614.8px">704万</div><div class="yl" style="top:661.5px">702万</div>
<div style="left:1737px;top:426px;width:76px;height:20px;background:#ec4a59"></div>
<div style="left:1737px;top:436px;width:6px;height:1px;background:#fff"></div>
<div style="left:1747.5px;top:428px;font-size:12px;line-height:16px;color:#fff;font-weight:bold">712.018万</div>
<!-- gutter -->
<div style="left:1815px;top:0;width:4px;height:701px;background:#f0f0f0"></div>
<div style="left:1811px;top:0;width:4px;height:4px;background:#f0f0f0"></div>
<div style="left:1807px;top:0;width:8px;height:8px;background:#fff;border-radius:0 4px 0 0"></div>
<div style="left:1811.2px;top:638px;width:7.4px;height:37.5px;background:#d8d8d8;border-radius:2px"></div>
<svg class="abs" style="left:1813px;top:653.5px" width="5" height="8" viewBox="0 0 5 8"><path d="M0 0L4.5 3.7L0 7.4Z" fill="#666"/></svg>
<!-- right panel -->
<div style="left:1831.5px;top:5px;font-size:18px;line-height:22px;color:#333;letter-spacing:-0.5px">BTC 鲸鱼地址余额</div>
<div style="left:1831.5px;top:30.7px;font-size:14px;line-height:18px;color:#888">Bal.:</div><div style="left:1868.5px;top:30.7px;font-size:14px;line-height:18px;color:#888;letter-spacing:-0.35px">&gt;1000 BTC</div>
<div style="left:1832px;top:61px;font-size:26px;line-height:30px;color:#333">712万</div>
<div style="left:1911.5px;top:71px;font-size:16px;line-height:20px;color:#21b58a;letter-spacing:-0.4px">0.09%</div>
<div class="btn" style="left:1831px;background:linear-gradient(105deg,#fbeab2 0%,#f7dc8a 50%,#f2cc62 100%)"><span>副图指标</span></div>
<div class="btn" style="left:1919px;background:linear-gradient(105deg,#fbeab2 0%,#f7dc8a 50%,#f2cc62 100%)"><span>加入自选</span></div>
<div class="btn" style="left:2007px;background:#e6e6e6;color:#333"><span>添加预警</span></div>
<div class="bar" style="top:167.3px"></div><div class="sec" style="top:164.5px">指数简介</div>
<div style="left:1834px;top:204.2px;font-size:12px;line-height:22px;color:#333;">该指数是指持有 1000 个比特币以上的地址的总供应<br>量。<br>【注】数据仅供参考，不构成任何投资建议。</div>
<div class="bar" style="top:295.2px"></div><div class="sec" style="top:292.5px">大家在关注</div>
<div class="rk big" style="top:342.5px;color:#f87272">1</div><div class="nm" style="top:334px">伦敦金</div><div class="sb" style="top:358.7px">10.934万 热度</div><svg class="abs" style="left:2090px;top:347px" width="14" height="14" viewBox="0 0 14 14"><rect x="0.5" y="0.5" width="13" height="13" rx="1" fill="none" stroke="#666" stroke-width="1"/><path d="M3.5 7H10.5M7 3.5V10.5" stroke="#555" stroke-width="1"/></svg><div class="rk big" style="top:407.5px;color:#f09c58">2</div><div class="nm" style="top:399px">纳斯达克指数期货CFD</div><div class="sb" style="top:423.7px">3.858万 热度</div><svg class="abs" style="left:2090px;top:412px" width="14" height="14" viewBox="0 0 14 14"><rect x="0.5" y="0.5" width="13" height="13" rx="1" fill="none" stroke="#666" stroke-width="1"/><path d="M3.5 7H10.5M7 3.5V10.5" stroke="#555" stroke-width="1"/></svg><div class="rk big" style="top:472.5px;color:#60b8f8">3</div><div class="nm" style="top:464px">伦敦银</div><div class="sb" style="top:488.7px">4000.00 热度</div><svg class="abs" style="left:2090px;top:477px" width="14" height="14" viewBox="0 0 14 14"><rect x="0.5" y="0.5" width="13" height="13" rx="1" fill="none" stroke="#666" stroke-width="1"/><path d="M3.5 7H10.5M7 3.5V10.5" stroke="#555" stroke-width="1"/></svg><div class="rk" style="top:532px">4</div><div class="up" style="top:551.7px"><svg width="7" height="9" viewBox="0 0 7 9"><path d="M3.5 8.5V1M0.8 3.6L3.5 0.9L6.2 3.6" fill="none" stroke="#2bb78d" stroke-width="1.2"/></svg>8</div><div class="nm" style="top:529px">恐惧&amp;贪婪指数</div><div class="sb" style="top:553.7px">3000.00 热度</div><svg class="abs" style="left:2090px;top:542px" width="14" height="14" viewBox="0 0 14 14"><rect x="0.5" y="0.5" width="13" height="13" rx="1" fill="none" stroke="#666" stroke-width="1"/><path d="M3.5 7H10.5M7 3.5V10.5" stroke="#555" stroke-width="1"/></svg><div class="rk" style="top:597px">5</div><div class="up" style="top:616.7px"><svg width="7" height="9" viewBox="0 0 7 9"><path d="M3.5 8.5V1M0.8 3.6L3.5 0.9L6.2 3.6" fill="none" stroke="#2bb78d" stroke-width="1.2"/></svg>3</div><div class="nm" style="top:594px">USDT 市占率 (%)</div><div class="sb" style="top:618.7px">2500.00 热度</div><svg class="abs" style="left:2090px;top:607px" width="14" height="14" viewBox="0 0 14 14"><rect x="0.5" y="0.5" width="13" height="13" rx="1" fill="none" stroke="#666" stroke-width="1"/><path d="M3.5 7H10.5M7 3.5V10.5" stroke="#555" stroke-width="1"/></svg><div class="rk" style="top:662px">6</div><div class="up" style="top:681.7px"><svg width="7" height="9" viewBox="0 0 7 9"><path d="M3.5 8.5V1M0.8 3.6L3.5 0.9L6.2 3.6" fill="none" stroke="#2bb78d" stroke-width="1.2"/></svg>3</div><div class="nm" style="top:659px">加密总市值 ($)</div><div class="sb" style="top:683.7px">2000.00 热度</div><svg class="abs" style="left:2090px;top:672px" width="14" height="14" viewBox="0 0 14 14"><rect x="0.5" y="0.5" width="13" height="13" rx="1" fill="none" stroke="#666" stroke-width="1"/><path d="M3.5 7H10.5M7 3.5V10.5" stroke="#555" stroke-width="1"/></svg>
<div style="left:2112px;top:322px;width:3px;height:379px;background:#e8e8e8;border-radius:2px"></div>
</body></html>
